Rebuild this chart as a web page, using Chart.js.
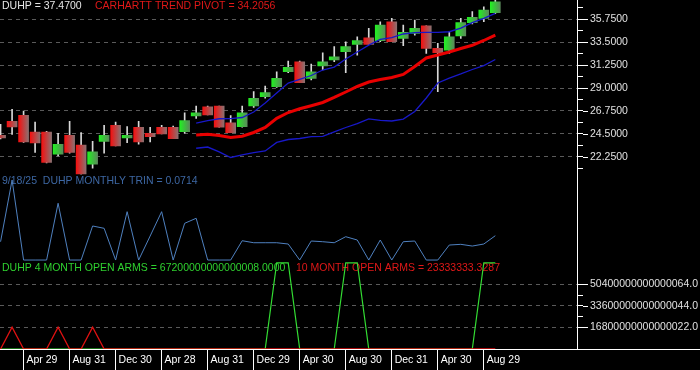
<!DOCTYPE html>
<html>
<head>
<meta charset="utf-8">
<script src="https://cdn.jsdelivr.net/npm/chart.js@4"></script>
<style>
  html, body { margin: 0; padding: 0; background: #000; }
</style>
</head>
<body>
<canvas id="myChart" width="700" height="370"></canvas>
<script>
// date axis: one label every 4 monthly bars
var dateLabels = ['Apr 29', 'Aug 31', 'Dec 30', 'Apr 28', 'Aug 31', 'Dec 29', 'Apr 30', 'Aug 30', 'Dec 31', 'Apr 30', 'Aug 29'];
var dateLabelIdx = [2, 6, 10, 14, 18, 22, 26, 30, 34, 38, 42];

// monthly bars, Feb 2022 .. Sep 2025
var opens  = [24.35, 25.72, 26.31, 24.68, 24.68, 22.50, 24.35, 23.38, 21.52, 23.76, 25.33, 24.09, 25.14, 24.55, 25.14, 25.14, 24.71, 26.25, 27.16, 27.23, 25.59, 25.20, 27.23, 28.15, 29.13, 30.60, 31.58, 29.95, 31.16, 31.75, 32.57, 33.29, 33.94, 33.65, 35.51, 33.88, 34.37, 35.12, 32.90, 32.73, 34.11, 35.42, 35.85, 36.40];
var highs  = [25.43, 26.90, 26.73, 25.65, 24.75, 24.55, 25.72, 24.62, 23.77, 25.33, 25.65, 25.20, 25.72, 25.14, 25.33, 25.26, 26.57, 27.23, 27.23, 27.23, 26.30, 27.23, 28.64, 29.20, 30.60, 31.65, 31.65, 31.36, 32.47, 33.06, 33.55, 34.04, 34.87, 35.51, 35.85, 35.19, 35.68, 35.12, 33.39, 34.53, 35.85, 36.50, 36.99, 37.65];
var lows   = [24.00, 24.45, 23.65, 22.66, 21.65, 22.33, 22.60, 20.50, 21.13, 22.59, 23.30, 23.64, 23.47, 23.70, 24.48, 24.03, 24.55, 26.02, 26.35, 25.14, 24.61, 25.14, 27.10, 27.99, 29.07, 30.50, 29.52, 29.79, 30.77, 31.58, 30.50, 32.24, 33.29, 33.55, 33.55, 33.16, 34.20, 32.41, 28.64, 32.41, 33.88, 35.29, 35.51, 36.30];
var closes = [24.09, 25.17, 23.70, 23.60, 21.68, 23.47, 22.66, 20.54, 22.72, 24.35, 23.31, 24.35, 23.70, 24.23, 24.48, 24.03, 25.79, 26.57, 26.35, 25.14, 24.61, 26.57, 27.99, 28.54, 29.95, 31.03, 29.52, 30.60, 31.58, 32.07, 33.06, 33.65, 33.29, 35.19, 33.55, 34.47, 34.87, 32.90, 32.47, 34.04, 35.42, 35.95, 36.66, 37.47];

// bands start at bar 17
var bandStart = 17;
var upperBand  = [25.56, 25.79, 25.98, 26.00, 26.10, 26.64, 27.53, 28.51, 29.49, 29.86, 30.23, 30.77, 31.06, 31.85, 32.54, 33.22, 33.77, 33.96, 34.31, 34.45, 34.47, 34.47, 34.53, 34.88, 35.42, 35.85, 36.34];
var trendPivot = [24.38, 24.45, 24.33, 24.14, 24.26, 24.63, 25.12, 26.02, 26.59, 26.96, 27.26, 27.58, 28.07, 28.61, 29.15, 29.59, 29.83, 30.03, 30.33, 31.11, 31.95, 32.24, 32.54, 32.88, 33.20, 33.67, 34.2056];
var lowerBand  = [23.08, 23.20, 22.73, 22.17, 22.42, 22.64, 22.81, 23.65, 23.94, 24.04, 24.22, 24.24, 24.68, 25.12, 25.51, 25.97, 25.81, 25.76, 25.95, 26.69, 28.02, 29.49, 29.98, 30.38, 30.82, 31.21, 31.80];

var trin = [0.0538, 0.235, 0, 0, 0, 0.1666, 0, 0, 0.0999, 0.0931, 0, 0.1419, 0, 0.0705, 0.1419, 0, 0.1078, 0.1225, 0, 0, 0, 0.0567, 0.0508, 0.0508, 0.0508, 0.047, 0, 0.0558, 0.0538, 0.0508, 0.0685, 0.0588, 0, 0.0588, 0, 0.0538, 0.0558, 0, 0, 0.0441, 0.0461, 0.0411, 0.047, 0.0714];

var openArms4  = [0, 0, 0, 0, 0, 0, 0, 0, 0, 0, 0, 0, 0, 0, 0, 0, 0, 0, 0, 0, 0, 0, 0, 0, 6.72e16, 6.72e16, 0, 0, 0, 0, 6.72e16, 6.72e16, 0, 0, 0, 0, 0, 0, 0, 0, 0, 0, 6.72e16, 6.72e16];
var openArms10 = [0, 1.7e16, 0, 0, 0, 1.7e16, 0, 0, 1.7e16, 0, 0, 0, 0, 0, 0, 0, 0, 0, 0, 0, 0, 0, 0, 0, 0, 0, 0, 0, 0, 0, 0, 0, 0, 0, 0, 0, 0, 0, 0, 0, 0, 0, 0, 23333333.3287];
var openArms4Text = '67200000000000008.0000';

var priceTicks = [22.25, 24.5, 26.75, 29, 31.25, 33.5, 35.75];
var armsTicks = [16.8e15, 33.6e15, 50.4e15];
var armsTickLabels = ['16800000000000022.0', '33600000000000044.0', '50400000000000064.0'];

var FONT = '"Liberation Sans", Arial, sans-serif';
Chart.defaults.font.family = FONT;
Chart.defaults.font.size = 10.5;

function pts(arr, start) {
    return arr.map(function(v, i) { return {x: i + start, y: v}; });
}

function bodyFill(c) {
    var i = c.dataIndex;
    var up = i !== undefined && closes[i] >= opens[i];
    var solid = up ? '#33cc33' : '#cc2222';
    var xs = c.chart.scales && c.chart.scales.x;
    if (i === undefined || !xs) return solid;
    var x = xs.getPixelForValue(i);
    if (!isFinite(x)) return solid;
    var g = c.chart.ctx.createLinearGradient(x - 5, 0, x + 5, 0);
    if (up) {
        g.addColorStop(0, '#22f022');
        g.addColorStop(1, '#5a8a5a');
    } else {
        g.addColorStop(0, '#f41010');
        g.addColorStop(1, '#8c7070');
    }
    return g;
}

function midTicks(major) {
    var out = [];
    var step = major[1] - major[0];
    out.push(major[0] - step / 2);
    major.forEach(function(v) { out.push(v); out.push(v + step / 2); });
    return out;
}

// fixed right axis width, no label overhang padding
function fixWidth(s) {
    s.width = 123;
    s.paddingTop = 0;
    s.paddingBottom = 0;
}

var paneText = {
    id: 'paneText',
    beforeDatasetsDraw: function(chart) {
        var c = chart.ctx, s = chart.scales;
        c.save();
        c.font = '10.5px ' + FONT;
        c.textBaseline = 'middle';
        c.fillStyle = '#e6e6e6';
        c.fillText('DUHP = ' + closes[closes.length - 1].toFixed(4), 2, s.y.top + 6.5);
        c.fillStyle = '#e01818';
        c.fillText('CARHARTT TREND PIVOT = ' + trendPivot[trendPivot.length - 1].toFixed(4), 95, s.y.top + 6.5);
        c.fillStyle = '#3d67a3';
        c.fillText('9/18/25  DUHP MONTHLY TRIN = ' + trin[trin.length - 1].toFixed(4), 2, s.yTrin.top + 7);
        c.fillStyle = '#2fd02f';
        c.fillText('DUHP 4 MONTH OPEN ARMS = ' + openArms4Text, 2, s.yArms.top + 6.5);
        c.fillStyle = '#e01818';
        c.fillText('10 MONTH OPEN ARMS = ' + openArms10[openArms10.length - 1].toFixed(4), 296, s.yArms.top + 6.5);
        c.restore();
    },
    afterDraw: function(chart) {
        var c = chart.ctx, s = chart.scales, a = chart.chartArea;
        c.save();
        c.fillStyle = '#fff';
        c.fillRect(0, Math.round(a.bottom), chart.width, 1);
        c.strokeStyle = '#fff';
        c.lineWidth = 1;
        c.beginPath();
        priceTicks.forEach(function(v) {
            var y = Math.round(s.y.getPixelForValue(v)) + 0.5;
            c.moveTo(s.y.left + 6, y); c.lineTo(s.y.left + 11, y);
        });
        armsTicks.forEach(function(v) {
            var y = Math.round(s.yArms.getPixelForValue(v)) + 0.5;
            c.moveTo(s.yArms.left + 6, y); c.lineTo(s.yArms.left + 11, y);
        });
        c.stroke();
        c.restore();
    }
};

var ctx = document.getElementById('myChart');
var myChart = new Chart(ctx, {
    type: 'bar',
    data: {
        datasets: [
            {
                type: 'line', label: 'upper', data: pts(upperBand, bandStart), yAxisID: 'y',
                borderColor: '#1818c8', borderWidth: 1.3, pointRadius: 0, order: 1
            },
            {
                type: 'line', label: 'pivot', data: pts(trendPivot, bandStart), yAxisID: 'y',
                borderColor: '#e80000', borderWidth: 3, pointRadius: 0, order: 1
            },
            {
                type: 'line', label: 'lower', data: pts(lowerBand, bandStart), yAxisID: 'y',
                borderColor: '#1818c8', borderWidth: 1.3, pointRadius: 0, order: 1
            },
            {
                label: 'body',
                data: opens.map(function(o, i) { return {x: i, y: [o, closes[i]]}; }),
                yAxisID: 'y', backgroundColor: bodyFill, barThickness: 10, grouped: false,
                borderWidth: 0, order: 2
            },
            {
                label: 'wick',
                data: highs.map(function(h, i) { return {x: i, y: [lows[i], h]}; }),
                yAxisID: 'y', backgroundColor: '#d8d8d8', barThickness: 1, grouped: false,
                borderWidth: 0, order: 3
            },
            {
                type: 'line', label: 'trin', data: pts(trin, 0), yAxisID: 'yTrin',
                borderColor: '#4f80bf', borderWidth: 1, pointRadius: 0, order: 1
            },
            {
                type: 'line', label: 'arms10', data: pts(openArms10, 0), yAxisID: 'yArms',
                borderColor: '#dd1111', borderWidth: 1.3, pointRadius: 0, order: 1
            },
            {
                type: 'line', label: 'arms4', data: pts(openArms4, 0), yAxisID: 'yArms',
                borderColor: '#33dd33', borderWidth: 1.2, pointRadius: 0, order: 2
            }
        ]
    },
    options: {
        responsive: false,
        animation: false,
        layout: { padding: 0 },
        plugins: { legend: { display: false }, tooltip: { enabled: false } },
        scales: {
            x: {
                type: 'linear', position: 'bottom', min: -0.05, max: 50.1, offset: false,
                afterBuildTicks: function(s) { s.ticks = dateLabelIdx.map(function(v) { return {value: v}; }); },
                afterFit: function(s) { s.height = 21; s.paddingLeft = 0; s.paddingRight = 0; },
                ticks: {
                    color: '#fff', align: 'start', maxRotation: 0, autoSkip: false, padding: -16,
                    callback: function(v) { return ' ' + dateLabels[dateLabelIdx.indexOf(v)]; }
                },
                grid: { offset: false, drawOnChartArea: false, drawTicks: true, tickLength: 21, tickColor: '#fff' },
                border: { color: '#fff' }
            },
            y: {
                type: 'linear', position: 'right', stack: 'panes', stackWeight: 2,
                min: 20.5, max: 37.65,
                afterBuildTicks: function(s) { s.ticks = midTicks(priceTicks).map(function(v) { return {value: v}; }); },
                afterFit: fixWidth,
                ticks: {
                    color: '#e0e0e0', padding: 7, autoSkip: false,
                    callback: function(v) { return priceTicks.indexOf(v) >= 0 ? v.toFixed(4) : ''; }
                },
                grid: {
                    color: function(c) { return c.tick && priceTicks.indexOf(c.tick.value) >= 0 ? '#5a5a5a' : 'rgba(0,0,0,0)'; },
                    tickColor: '#fff', tickLength: 6
                },
                border: { color: '#fff', dash: [4, 4] }
            },
            yTrin: {
                type: 'linear', position: 'right', stack: 'panes', stackWeight: 1,
                min: -0.005, max: 0.251,
                afterFit: fixWidth,
                ticks: { display: false },
                grid: { display: false },
                border: { color: '#fff' }
            },
            yArms: {
                type: 'linear', position: 'right', stack: 'panes', stackWeight: 1,
                min: 0, max: 6.8e16,
                afterBuildTicks: function(s) {
                    s.ticks = [16.8e15, 25.2e15, 33.6e15, 42e15, 50.4e15].map(function(v) { return {value: v}; });
                },
                afterFit: fixWidth,
                ticks: {
                    color: '#e0e0e0', padding: 7, autoSkip: false,
                    callback: function(v) {
                        var k = armsTicks.indexOf(v);
                        return k >= 0 ? armsTickLabels[k] : '';
                    }
                },
                grid: {
                    color: function(c) { return c.tick && armsTicks.indexOf(c.tick.value) >= 0 ? '#5a5a5a' : 'rgba(0,0,0,0)'; },
                    tickColor: '#fff', tickLength: 6
                },
                border: { color: '#fff', dash: [4, 4] }
            }
        }
    },
    plugins: [paneText]
});
</script>
</body>
</html>
